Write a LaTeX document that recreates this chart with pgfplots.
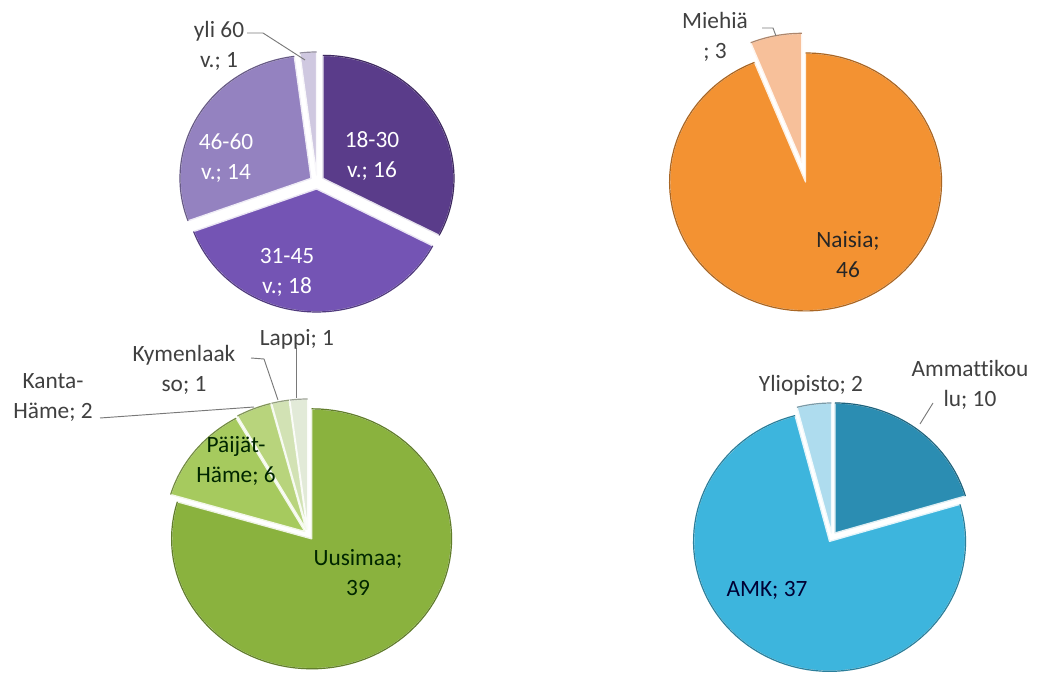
\documentclass[border=0pt]{standalone}
\usepackage{pgfplots}
\pgfplotsset{compat=1.18}
\usepackage{fontspec}
\setmainfont{Carlito}[Ligatures=NoCommon]

\definecolor{ageA}{HTML}{5A3C8A}
\definecolor{ageB}{HTML}{7454B4}
\definecolor{ageC}{HTML}{9482C0}
\definecolor{ageD}{HTML}{CFC8E0}
\definecolor{sexA}{HTML}{F39232}
\definecolor{sexB}{HTML}{F7C09A}
\definecolor{regA}{HTML}{8AB23E}
\definecolor{regB}{HTML}{A6CA5E}
\definecolor{regC}{HTML}{B8D47C}
\definecolor{regD}{HTML}{D2E2B4}
\definecolor{regE}{HTML}{E2EAD8}
\definecolor{eduA}{HTML}{2B8DB2}
\definecolor{eduB}{HTML}{3DB5DD}
\definecolor{eduC}{HTML}{AEDCEE}
\definecolor{lbl}{HTML}{404040}

% #1 cx, #2 cy, #3 rx, #4 ry, #5 count before slice, #6 slice value, #7 total, #8 explode, #9 colour
\newcommand{\slice}[9]{%
  \pgfmathsetmacro\aS{(#5)/(#7)*360}%
  \pgfmathsetmacro\aE{(#5+#6)/(#7)*360}%
  \pgfmathsetmacro\aM{(\aS+\aE)/2}%
  \pgfmathsetmacro\ox{#1+#8*sin(\aM)}%
  \pgfmathsetmacro\oy{#2-#8*cos(\aM)}%
  \edef\doslice{\noexpand\addplot[fill=#9, draw=white!85!#9, line width=1pt, line join=round, domain=\aS:\aE, samples=90, forget plot]
    ({\ox+#3*sin(x)}, {\oy-#4*cos(x)}) -- (axis cs:\ox,\oy) -- cycle;
    \noexpand\addplot[draw=#9!70!black, line width=0.9pt, domain=\aS:\aE, samples=90, forget plot]
    ({\ox+#3*sin(x)}, {\oy-#4*cos(x)});}%
  \doslice
}

\begin{document}
\begin{tikzpicture}
\begin{axis}[name=ax, x=0.75pt, y=0.75pt, y dir=reverse,
  xmin=0, xmax=1040, ymin=0, ymax=673, hide axis, scale only axis, clip=false]
\addplot[draw=none, forget plot] coordinates {(0,0) (1040,673)};

% Age (total 49): 18-30 16, 31-45 18, 46-60 14, yli 60 1
\slice{317}{182}{131}{123}{0}{16}{49}{7}{ageA}
\slice{317}{182}{131}{123}{16}{18}{49}{7}{ageB}
\slice{317}{182}{131}{123}{34}{14}{49}{7}{ageC}
\slice{317}{182}{131}{123}{48}{1}{49}{7}{ageD}

% Sex (total 49): Naisia 46, Miehiä 3
\slice{805}{179}{136}{129}{0}{46}{49}{3}{sexA}
\slice{805}{179}{136}{129}{46}{3}{49}{17}{sexB}

% Region (total 49): Uusimaa 39, Päijät-Häme 6, Kanta-Häme 2, Kymenlaakso 1, Lappi 1
\slice{308}{534}{140}{130}{0}{39}{49}{6}{regA}
\slice{308}{534}{140}{130}{39}{6}{49}{4}{regB}
\slice{308}{534}{140}{130}{45}{2}{49}{5}{regC}
\slice{308}{534}{140}{130}{47}{1}{49}{5}{regD}
\slice{308}{534}{140}{130}{48}{1}{49}{5}{regE}

% Education (total 49): Ammattikoulu 10, AMK 37, Yliopisto 2
\slice{832}{537}{136}{130}{0}{10}{49}{5}{eduA}
\slice{832}{537}{136}{130}{10}{37}{49}{5}{eduB}
\slice{832}{537}{136}{130}{47}{2}{49}{4}{eduC}

% leader lines
\draw[lbl!70, line width=0.7pt] (axis cs:247,33) -- (axis cs:263,33) -- (axis cs:305,60);
\draw[lbl!70, line width=0.7pt] (axis cs:762,28) -- (axis cs:773,28) -- (axis cs:776,36);
\draw[lbl!70, line width=0.7pt] (axis cs:296,348) -- (axis cs:296,398);
\draw[lbl!70, line width=0.7pt] (axis cs:251,358) -- (axis cs:264,359) -- (axis cs:278,400);
\draw[lbl!70, line width=0.7pt] (axis cs:100,418) -- (axis cs:254,407);
\draw[lbl!70, line width=0.7pt] (axis cs:933,403) -- (axis cs:920,424);

% labels
\tikzset{lab/.style={align=center, font=\fontsize{17.5}{22.5}\selectfont, inner sep=0pt}}
\node[lab, text=white] at (axis cs:372,156) {18-30\\v.; 16};
\node[lab, text=white] at (axis cs:226,158) {46-60\\v.; 14};
\node[lab, text=white] at (axis cs:287,272) {31-45\\v.; 18};
\node[lab, text=lbl] at (axis cs:219,46) {yli 60\\v.; 1};
\node[lab, text=lbl] at (axis cs:715,37) {Miehiä\\; 3};
\node[lab, text=black!85] at (axis cs:848,255) {Naisia;\\46};
\node[lab, text=lbl] at (axis cs:297,339) {Lappi; 1};
\node[lab, text=lbl] at (axis cs:184,370) {Kymenlaak\\so; 1};
\node[lab, text=lbl] at (axis cs:53,398) {Kanta-\\Häme; 2};
\node[lab, text=black!85!green] at (axis cs:236,461) {Päijät-\\Häme; 6};
\node[lab, text=black!85!green] at (axis cs:358,573) {Uusimaa;\\39};
\node[lab, text=lbl] at (axis cs:811,385) {Yliopisto; 2};
\node[lab, text=lbl] at (axis cs:970,385) {Ammattikou\\lu; 10};
\node[lab, text=black!80!blue] at (axis cs:767,590) {AMK; 37};
\end{axis}
\pgfresetboundingbox
\path (ax.south west) rectangle (ax.north east);
\end{tikzpicture}
\end{document}
